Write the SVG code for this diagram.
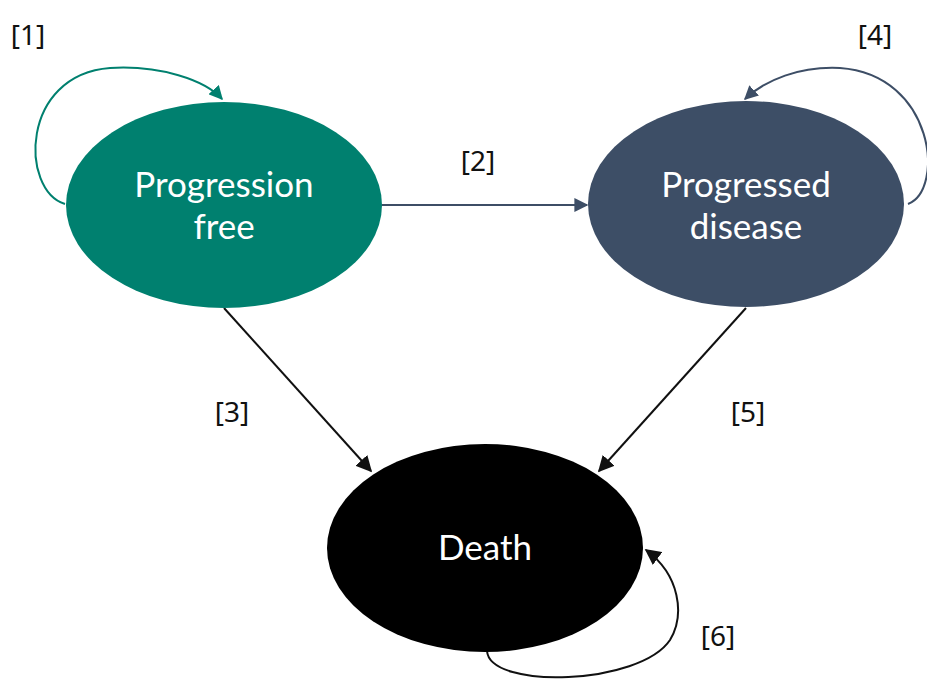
<svg xmlns="http://www.w3.org/2000/svg" width="927" height="680" viewBox="0 0 927 680">
<style>
.lbl{font-family:"Noto Sans","Open Sans",sans-serif;font-size:28px;fill:#111;text-anchor:middle}
.nt{font-family:Lato,"Noto Sans",sans-serif;font-size:35px;fill:#fff;text-anchor:middle}
.c{fill:none;stroke-width:2}
</style>
<defs>
<marker id="at" viewBox="0 0 10 10" refX="9" refY="5" markerWidth="14" markerHeight="14" orient="auto" markerUnits="userSpaceOnUse"><path d="M0 0L10 5L0 10z" fill="#00806f"/></marker>
<marker id="as" viewBox="0 0 10 10" refX="9" refY="5" markerWidth="14" markerHeight="14" orient="auto" markerUnits="userSpaceOnUse"><path d="M0 0L10 5L0 10z" fill="#3d4e66"/></marker>
<marker id="ab" viewBox="0 0 10 10" refX="9" refY="5" markerWidth="16" markerHeight="16" orient="auto" markerUnits="userSpaceOnUse"><path d="M0 0L10 5L0 10z" fill="#111"/></marker>
</defs>
<rect width="927" height="680" fill="#fff"/>
<g id="connectors">
<path class="c" stroke="#00806f" d="M65 204 C20 190 20 75 110 68 C160 65 205 80 222 99" marker-end="url(#at)"/>
<path class="c" stroke="#3d4e66" d="M908 204 C945 190 935 75 840 68 C800 66 765 80 745 99" marker-end="url(#as)"/>
<path class="c" stroke="#3d4e66" d="M382 205 L587 205" marker-end="url(#as)"/>
<path class="c" stroke="#111" d="M224 308 L371 471" marker-end="url(#ab)"/>
<path class="c" stroke="#111" d="M746 308 L599 471" marker-end="url(#ab)"/>
<path class="c" stroke="#111" d="M487 651 C490 690 640 685 670 640 C685 615 680 575 646 550" marker-end="url(#ab)"/>
</g>
<g id="progression-free">
<ellipse cx="224" cy="205" rx="158" ry="103" fill="#00806f"/>
<text class="nt"><tspan x="224" y="197">Progression</tspan><tspan x="224" y="239">free</tspan></text>
</g>
<g id="progressed-disease">
<ellipse cx="746" cy="204" rx="158" ry="103" fill="#3d4e66"/>
<text class="nt"><tspan x="746" y="197">Progressed</tspan><tspan x="746" y="239">disease</tspan></text>
</g>
<g id="death">
<ellipse cx="485" cy="548" rx="158" ry="104" fill="#000"/>
<text class="nt" x="485" y="560">Death</text>
</g>
<g id="labels">
<text class="lbl" x="28" y="45">[1]</text>
<text class="lbl" x="478" y="171">[2]</text>
<text class="lbl" x="232" y="422">[3]</text>
<text class="lbl" x="875" y="45">[4]</text>
<text class="lbl" x="748" y="422">[5]</text>
<text class="lbl" x="718" y="646">[6]</text>
</g>
</svg>
